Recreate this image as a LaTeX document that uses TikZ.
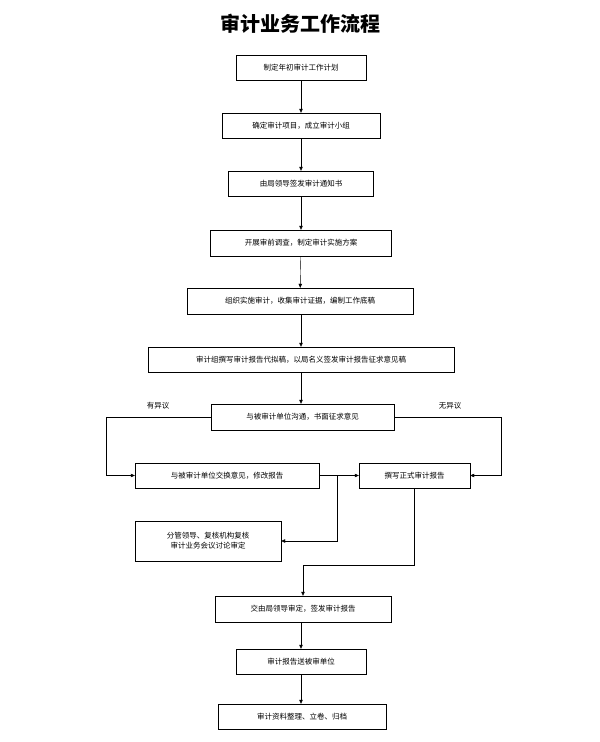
\documentclass[tikz,border=0pt]{standalone}
\usepackage{fontspec}
\newfontfamily\cjk{Noto Sans CJK SC}
\usetikzlibrary{arrows.meta}
\tikzset{
  box/.style={draw,thin,inner sep=0pt,font=\cjk\fontsize{7.5}{10}\selectfont,align=center},
  flow/.style={-{Triangle[length=4pt,width=3.5pt]},thin}
}
\begin{document}
\begin{tikzpicture}[x=1pt,y=-1pt]
  \useasboundingbox (0,0) rectangle (600,742);
  \node[font=\cjk\bfseries\fontsize{20}{24}\selectfont] (title) at (300,24) {审计业务工作流程};

  \node[box,minimum width=130,minimum height=25] (plan) at (301,67.5) {制定年初审计工作计划};
  \node[box,minimum width=158,minimum height=25] (team) at (301,125.5) {确定审计项目，成立审计小组};
  \node[box,minimum width=145,minimum height=25] (notice) at (301,183.5) {由局领导签发审计通知书};
  \node[box,minimum width=181,minimum height=26] (survey) at (301,243) {开展审前调查，制定审计实施方案};
  \node[box,minimum width=226,minimum height=26] (work) at (300,301) {组织实施审计，收集审计证据，编制工作底稿};
  \node[box,minimum width=306,minimum height=25] (draft) at (301,359.5) {审计组撰写审计报告代拟稿，以局名义签发审计报告征求意见稿};
  \node[box,minimum width=183,minimum height=26] (talk) at (302.5,417) {与被审计单位沟通，书面征求意见};
  \node[box,minimum width=184,minimum height=25] (revise) at (227,475.5) {与被审计单位交换意见，修改报告};
  \node[box,minimum width=111,minimum height=25] (formal) at (414.5,475.5) {撰写正式审计报告};
  \node[box,minimum width=146,minimum height=40] (review) at (208,541) {分管领导、复核机构复核\\审计业务会议讨论审定};
  \node[box,minimum width=176,minimum height=26] (sign) at (303,609) {交由局领导审定，签发审计报告};
  \node[box,minimum width=130,minimum height=25] (send) at (301,661.5) {审计报告送被审单位};
  \node[box,minimum width=168,minimum height=25] (file) at (302,716.5) {审计资料整理、立卷、归档};

  \node[font=\cjk\fontsize{7.5}{9}\selectfont] (yes) at (158,406) {有异议};
  \node[font=\cjk\fontsize{7.5}{9}\selectfont] (no) at (450,406) {无异议};

  \draw[flow] (plan) -- (team);
  \draw[flow] (team) -- (notice);
  \draw[flow] (notice) -- (survey);
  \draw[flow] (survey) -- (work);
  \draw[flow] (work.south -| survey) -- (draft.north -| survey);
  \draw[flow] (draft.south -| survey) -- (talk.north -| survey);
  \draw[flow] (talk.west) -- (106,417) |- (revise.west);
  \draw[flow] (talk.east) -- (501,417) |- (formal.east);
  \draw[flow] (revise) -- (formal);
  \draw[flow] (337,475.5) |- (review.east);
  \draw[flow] (formal.south) -- (414.5,565) -| (sign.north);
  \draw[flow] (sign.south -| send) -- (send);
  \draw[flow] (send.south) -- (file.north -| send);
\end{tikzpicture}
\end{document}
